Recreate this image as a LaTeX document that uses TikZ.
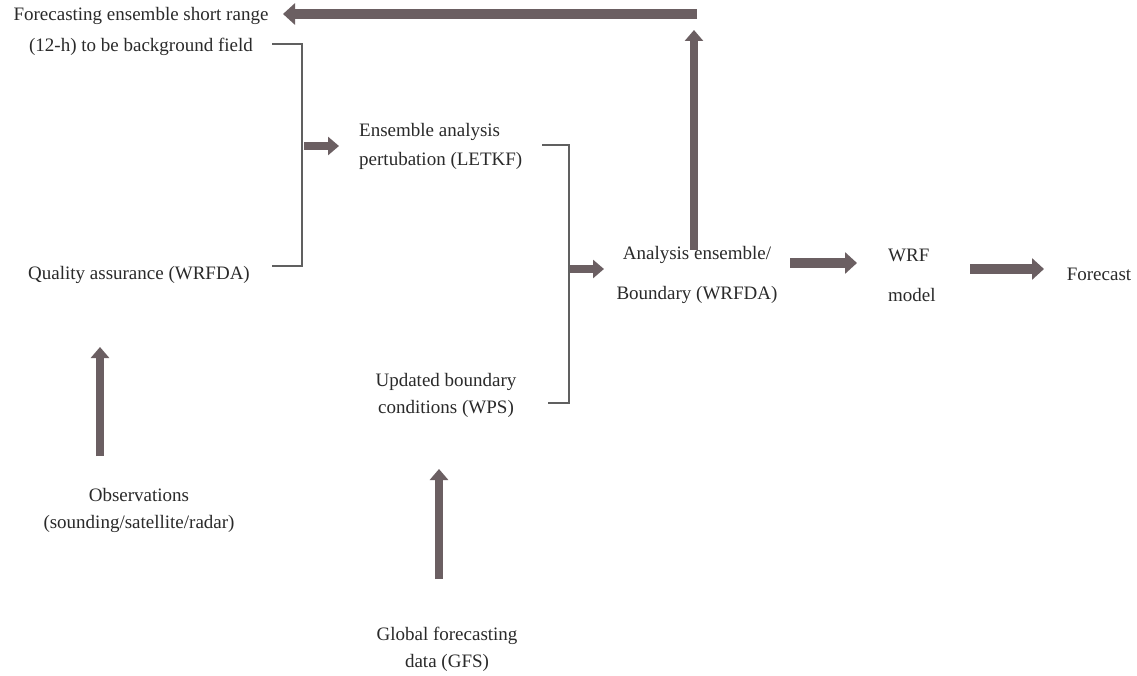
\documentclass[tikz,border=0pt]{standalone}
\usepackage{fontspec}
\setmainfont{Liberation Serif}
\usetikzlibrary{arrows.meta}
\definecolor{arr}{HTML}{6B5F62}
\definecolor{brk}{HTML}{606060}
\definecolor{txt}{HTML}{2A2A2A}
\tikzset{
  lbl/.style={align=center, inner sep=0pt, text=txt, font=\fontsize{19}{27}\selectfont},
  fat/.style={draw=arr, line width=8pt, -{Triangle[length=11pt,width=18pt]}},
  fatter/.style={draw=arr, line width=10pt, -{Triangle[length=12pt,width=21pt]}},
  brack/.style={draw=brk, line width=1.2pt},
}
\begin{document}
\begin{tikzpicture}[x=1pt,y=-1pt]
\useasboundingbox[fill=white] (0,0) rectangle (1137,676);

% text nodes
\node[lbl, font=\fontsize{19}{31}\selectfont] (fc) at (141,31) {Forecasting ensemble short range\\(12-h) to be background field};
\node[lbl] (qa) at (139,275) {Quality assurance (WRFDA)};
\node[lbl, align=left, anchor=west, font=\fontsize{19}{29}\selectfont] (ens) at (359,146) {Ensemble analysis\\pertubation (LETKF)};
\node[lbl] (upd) at (446,395) {Updated boundary\\conditions (WPS)};
\node[lbl, font=\fontsize{19}{40}\selectfont] (ana) at (697,275) {Analysis ensemble/\\Boundary (WRFDA)};
\node[lbl, align=left, anchor=west, font=\fontsize{19}{40}\selectfont] (wrf) at (888,275) {WRF\\model};
\node[lbl] (fcst) at (1099,274) {Forecast};
\node[lbl] (obs) at (139,510) {Observations\\(sounding/satellite/radar)};
\node[lbl] (gfs) at (447,649) {Global forecasting\\data (GFS)};

% coordinates
\coordinate (b1a) at (272,44);
\coordinate (b1b) at (302,44);
\coordinate (b1c) at (302,266);
\coordinate (b1d) at (272,266);
\coordinate (b1m) at (304,146);
\coordinate (b1e) at (339,146);
\coordinate (b2a) at (542,145);
\coordinate (b2b) at (569,145);
\coordinate (b2c) at (569,403);
\coordinate (b2d) at (548,403);
\coordinate (b2m) at (570,269);
\coordinate (b2e) at (604,269);
\coordinate (upS) at (694,250);
\coordinate (upE) at (694,30);
\coordinate (topR) at (697,14);
\coordinate (topL) at (283,14);
\coordinate (aw1) at (790,263);
\coordinate (aw2) at (857,263);
\coordinate (wf1) at (970,269);
\coordinate (wf2) at (1044,269);
\coordinate (ob1) at (100,456);
\coordinate (ob2) at (100,347);
\coordinate (gf1) at (439,579);
\coordinate (gf2) at (439,469);

% brackets
\draw[brack] (b1a) -- (b1b) -- (b1c) -- (b1d);
\draw[brack] (b2a) -- (b2b) -- (b2c) -- (b2d);

% arrows
\draw[fat] (b1m) -- (b1e);
\draw[fat] (b2m) -- (b2e);
\draw[fat] (upS) -- (upE);
\draw[fatter] (topR) -- (topL);
\draw[fatter] (aw1) -- (aw2);
\draw[fatter] (wf1) -- (wf2);
\draw[fat] (ob1) -- (ob2);
\draw[fat] (gf1) -- (gf2);
\end{tikzpicture}
\end{document}
